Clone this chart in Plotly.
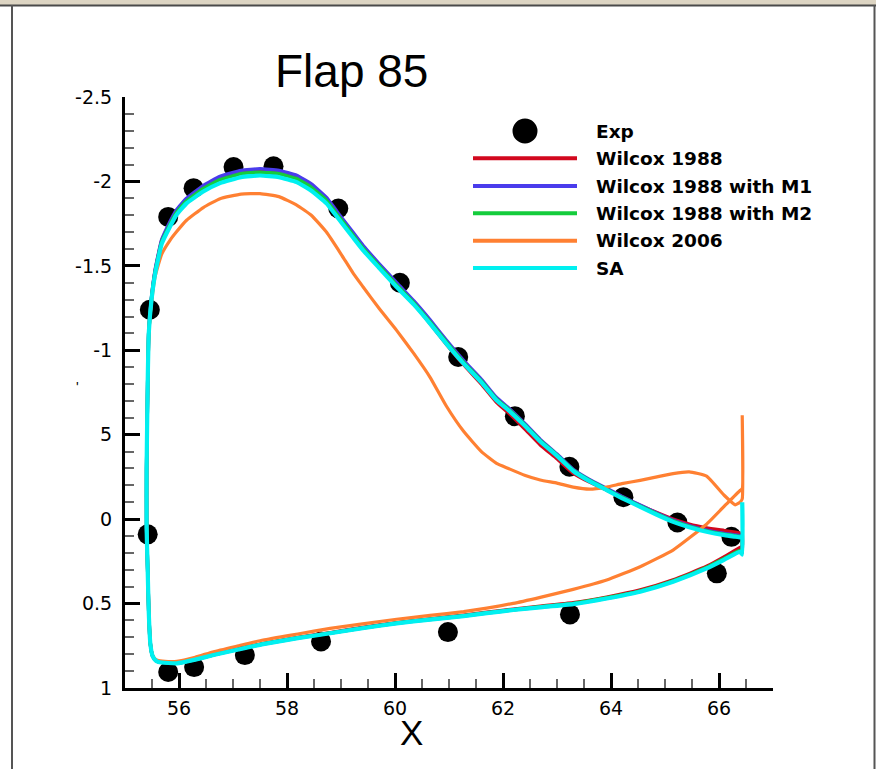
import plotly.graph_objects as go

W, H = 876, 769

# ---------------- data ----------------
EXP_X = [55.42, 55.46, 55.80, 56.27, 57.01, 57.75, 58.95, 60.09, 61.17, 62.22, 63.23, 64.23, 65.23, 66.23,
         55.80, 56.28, 57.22, 58.63, 60.98, 63.24, 65.96]
EXP_Y = [0.09, -1.24, -1.79, -1.96, -2.085, -2.09, -1.84, -1.40, -0.96, -0.61, -0.31, -0.13, 0.02, 0.105,
         0.905, 0.876, 0.805, 0.724, 0.669, 0.564, 0.321]

TE_X = 66.43

X_UPPER = [66.43, 66.39, 66.30, 66.10, 65.77, 65.45, 65.15, 64.85, 64.54, 64.20, 63.92, 63.60, 63.30, 63.00,
           62.69, 62.40, 62.10, 61.88, 61.60, 61.27, 60.95, 60.65, 60.35, 60.03, 59.70, 59.41, 59.23, 59.00,
           58.73, 58.45, 58.18, 57.85, 57.50, 57.15, 56.76, 56.45, 56.14, 55.95, 55.83, 55.68, 55.56, 55.49,
           55.44, 55.42, 55.40]
X_LOWER = [55.40, 55.42, 55.44, 55.47, 55.51, 55.57, 55.62, 55.80, 55.96, 56.30, 56.64, 57.10, 57.56, 58.20,
           58.80, 59.40, 60.03, 60.65, 61.27, 61.70, 62.19, 62.69, 63.30, 63.92, 64.54, 65.15, 65.77, 66.14,
           66.39, 66.43]

# Wilcox 1988
RED_UP = [0.085, 0.083, 0.078, 0.068, 0.052, 0.030, 0.000, -0.038, -0.082, -0.130, -0.172, -0.220, -0.272,
          -0.358, -0.440, -0.535, -0.630, -0.692, -0.800, -0.915, -1.037, -1.158, -1.273, -1.382, -1.498,
          -1.602, -1.678, -1.775, -1.890, -1.970, -2.022, -2.053, -2.063, -2.053, -2.018, -1.965, -1.892,
          -1.822, -1.750, -1.648, -1.473, -1.306, -1.108, -0.80, -0.30]
RED_LO = [0.05, 0.30, 0.55, 0.74, 0.81, 0.836, 0.844, 0.850, 0.852, 0.830, 0.802, 0.769, 0.736, 0.701, 0.672,
          0.642, 0.613, 0.591, 0.569, 0.552, 0.533, 0.516, 0.495, 0.462, 0.420, 0.360, 0.280, 0.215, 0.168, 0.160]
RED_TE = 0.083

# Wilcox 1988 with M1
BLUE_UP = [0.100, 0.098, 0.094, 0.085, 0.065, 0.038, 0.006, -0.036, -0.083, -0.135, -0.182, -0.235, -0.295,
           -0.385, -0.472, -0.568, -0.660, -0.720, -0.828, -0.940, -1.060, -1.180, -1.292, -1.400, -1.515,
           -1.620, -1.695, -1.790, -1.905, -1.985, -2.036, -2.065, -2.075, -2.065, -2.030, -1.975, -1.900,
           -1.830, -1.760, -1.655, -1.480, -1.310, -1.110, -0.80, -0.30]
BLUE_LO = [0.05, 0.30, 0.55, 0.74, 0.81, 0.837, 0.845, 0.851, 0.853, 0.831, 0.804, 0.771, 0.739, 0.704, 0.675,
           0.645, 0.616, 0.594, 0.573, 0.556, 0.537, 0.521, 0.501, 0.468, 0.427, 0.368, 0.288, 0.228, 0.188, 0.200]
BLUE_TE = 0.100

# Wilcox 1988 with M2
GREEN_UP = [0.105, 0.103, 0.099, 0.090, 0.070, 0.043, 0.011, -0.031, -0.078, -0.130, -0.177, -0.230, -0.290,
            -0.380, -0.466, -0.561, -0.652, -0.712, -0.818, -0.930, -1.050, -1.168, -1.281, -1.387, -1.502,
            -1.605, -1.680, -1.775, -1.888, -1.965, -2.016, -2.045, -2.055, -2.045, -2.010, -1.958, -1.885,
            -1.815, -1.745, -1.642, -1.468, -1.303, -1.105, -0.80, -0.30]
GREEN_LO = [0.05, 0.30, 0.55, 0.74, 0.81, 0.837, 0.845, 0.851, 0.853, 0.831, 0.803, 0.770, 0.738, 0.703, 0.674,
            0.644, 0.615, 0.593, 0.572, 0.555, 0.536, 0.519, 0.499, 0.466, 0.425, 0.366, 0.286, 0.226, 0.186, 0.198]
GREEN_TE = 0.105

# Wilcox 2006
ORANGE_UP = [-0.12, -0.10, -0.085, -0.14, -0.255, -0.28, -0.27, -0.25, -0.23, -0.21, -0.19, -0.178, -0.19,
             -0.213, -0.232, -0.26, -0.30, -0.33, -0.40, -0.52, -0.67, -0.84, -0.98, -1.118, -1.25, -1.375,
             -1.454, -1.57, -1.70, -1.80, -1.86, -1.91, -1.928, -1.925, -1.898, -1.845, -1.77, -1.70, -1.65,
             -1.57, -1.44, -1.28, -1.10, -0.80, -0.30]
ORANGE_LO = [0.05, 0.30, 0.55, 0.74, 0.806, 0.832, 0.838, 0.843, 0.842, 0.818, 0.785, 0.750, 0.716, 0.680, 0.647,
             0.620, 0.593, 0.570, 0.548, 0.527, 0.499, 0.463, 0.416, 0.361, 0.282, 0.183, 0.030, -0.090, -0.170, -0.180]
ORANGE_TE = -0.615

# SA
CYAN_UP = [0.110, 0.108, 0.104, 0.095, 0.075, 0.048, 0.016, -0.026, -0.073, -0.125, -0.172, -0.225, -0.285,
           -0.375, -0.460, -0.555, -0.645, -0.704, -0.810, -0.921, -1.040, -1.158, -1.270, -1.375, -1.490,
           -1.592, -1.665, -1.760, -1.870, -1.945, -1.996, -2.025, -2.035, -2.025, -1.990, -1.940, -1.870,
           -1.800, -1.730, -1.630, -1.456, -1.296, -1.100, -0.80, -0.30]
CYAN_LO = [0.05, 0.30, 0.55, 0.74, 0.81, 0.838, 0.846, 0.852, 0.854, 0.832, 0.805, 0.772, 0.740, 0.705, 0.676,
           0.646, 0.617, 0.595, 0.574, 0.557, 0.538, 0.522, 0.503, 0.470, 0.430, 0.371, 0.292, 0.233, 0.193, 0.210]
CYAN_TE = -0.10

SERIES = ["Wilcox 1988", "Wilcox 1988 with M1", "Wilcox 1988 with M2", "Wilcox 2006", "SA"]
COLORS = ["#d2081e", "#4a3cec", "#14cc3c", "#ff8032", "#00f0f0"]
WIDTHS = [3.5, 3.5, 3.5, 3.2, 4.2]
UPS = [RED_UP, BLUE_UP, GREEN_UP, ORANGE_UP, CYAN_UP]
LOS = [RED_LO, BLUE_LO, GREEN_LO, ORANGE_LO, CYAN_LO]
TES = [RED_TE, BLUE_TE, GREEN_TE, ORANGE_TE, CYAN_TE]

X_TICKS = [56, 58, 60, 62, 64, 66]
Y_TICKS = [-2.5, -2, -1.5, -1, -0.5, 0, 0.5, 1]
Y_TICKTEXT = ["-2.5", "-2", "-1.5", "-1", "5", "0", "0.5", "1"]

# ---------------- figure ----------------
def px_x(p):
    return p / W

def px_y(p):
    return 1 - p / H

fig = go.Figure()

fig.add_trace(go.Scatter(x=EXP_X, y=EXP_Y, mode="markers", name="Exp",
                         marker=dict(color="black", size=20, line=dict(width=0)),
                         showlegend=False))

for name, col, wd, up, lo, te in zip(SERIES, COLORS, WIDTHS, UPS, LOS, TES):
    xs = [TE_X] + X_UPPER + X_LOWER + [TE_X]
    ys = [te] + up + lo + [te]
    fig.add_trace(go.Scatter(x=xs, y=ys, mode="lines", name=name,
                             line=dict(color=col, width=wd, shape="spline", smoothing=0.4),
                             showlegend=False))

tickfont = dict(family="DejaVu Sans, Liberation Sans, Arial", size=19, color="black")

fig.update_layout(
    width=W, height=H,
    margin=dict(l=0, r=0, t=0, b=0, autoexpand=False),
    paper_bgcolor="white", plot_bgcolor="white",
    showlegend=False,
    xaxis=dict(domain=[px_x(125), px_x(773)], range=[55, 67], showgrid=False, zeroline=False,
               automargin=False,
               showline=True, linecolor="black", linewidth=3,
               ticks="inside", ticklen=15, tickwidth=3, tickcolor="black",
               tickvals=X_TICKS, ticktext=[str(v) for v in X_TICKS], tickfont=tickfont,
               ticklabelstandoff=1,
               minor=dict(dtick=0.5, tick0=55, ticks="inside", ticklen=9, tickwidth=1.5, tickcolor="#666"),
               anchor="y"),
    yaxis=dict(domain=[px_y(688), px_y(97)], range=[1, -2.5], showgrid=False, zeroline=False,
               automargin=False,
               showline=True, linecolor="black", linewidth=3,
               ticks="inside", ticklen=15, tickwidth=3, tickcolor="black",
               tickvals=Y_TICKS, ticktext=Y_TICKTEXT, tickfont=tickfont,
               ticklabelstandoff=6,
               minor=dict(dtick=0.1, tick0=0, ticks="inside", ticklen=9, tickwidth=1.5, tickcolor="#666"),
               anchor="x"),
)

shapes = []
# window frame
shapes.append(dict(type="rect", xref="paper", yref="paper", x0=0, x1=1, y0=px_y(5), y1=1,
                   fillcolor="#ddd5c3", line=dict(width=0), layer="above"))
shapes.append(dict(type="line", xref="paper", yref="paper", x0=0, x1=1, y0=px_y(5.5), y1=px_y(5.5),
                   line=dict(color="#4a4a4a", width=2), layer="above"))
shapes.append(dict(type="line", xref="paper", yref="paper", x0=px_x(12), x1=px_x(12), y0=0, y1=px_y(5),
                   line=dict(color="#555555", width=2), layer="above"))
shapes.append(dict(type="line", xref="paper", yref="paper", x0=px_x(874.5), x1=px_x(874.5), y0=0, y1=px_y(5),
                   line=dict(color="#555555", width=2), layer="above"))

# legend (drawn manually)
LEG_ROWS_Y = [131, 158.3, 186, 213.3, 240.7, 268]
shapes.append(dict(type="circle", xref="paper", yref="paper",
                   x0=px_x(525 - 12.5), x1=px_x(525 + 12.5),
                   y0=px_y(LEG_ROWS_Y[0] + 12.5), y1=px_y(LEG_ROWS_Y[0] - 12.5),
                   fillcolor="black", line=dict(width=0)))
for yy, col in zip(LEG_ROWS_Y[1:], COLORS):
    shapes.append(dict(type="line", xref="paper", yref="paper", x0=px_x(473), x1=px_x(577),
                       y0=px_y(yy), y1=px_y(yy), line=dict(color=col, width=4)))

annotations = []
for yy, label in zip(LEG_ROWS_Y, ["Exp"] + SERIES):
    annotations.append(dict(xref="paper", yref="paper", x=px_x(594), y=px_y(yy), xanchor="left",
                            yanchor="middle", text="<b>" + label + "</b>", showarrow=False,
                            font=dict(family="DejaVu Sans, Liberation Sans, Arial", size=18.5, color="black")))

annotations.append(dict(xref="paper", yref="paper", x=px_x(351.5), y=px_y(71), xanchor="center",
                        yanchor="middle", text="Flap 85", showarrow=False,
                        font=dict(family="Liberation Sans, Arial", size=46, color="black")))
annotations.append(dict(xref="paper", yref="paper", x=px_x(411), y=px_y(732), xanchor="center",
                        yanchor="middle", text="X", showarrow=False,
                        font=dict(family="Liberation Sans, Arial", size=35, color="black")))
annotations.append(dict(xref="paper", yref="paper", x=px_x(77), y=px_y(387), xanchor="center",
                        yanchor="middle", text="'", showarrow=False,
                        font=dict(family="Liberation Sans, Arial", size=14, color="black")))

fig.update_layout(shapes=shapes, annotations=annotations)

fig.write_html("out.html")
